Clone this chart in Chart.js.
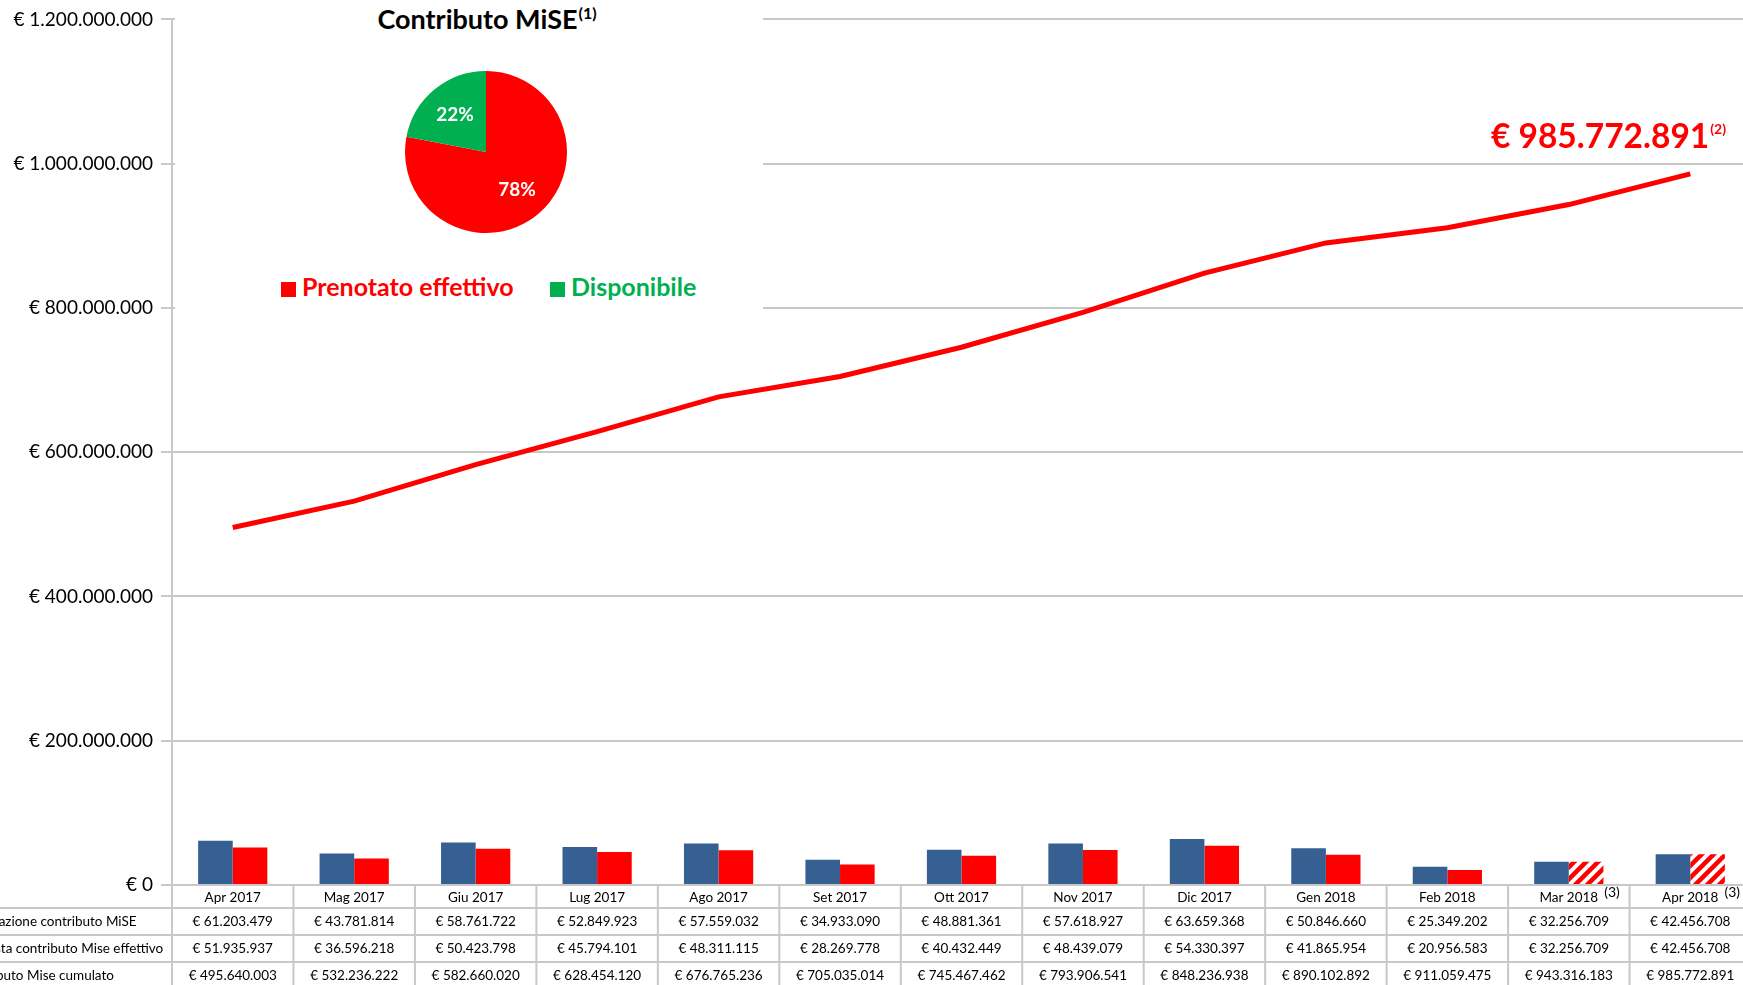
<!DOCTYPE html>
<html>
<head>
<meta charset="utf-8">
<script src="https://cdn.jsdelivr.net/npm/chart.js@4.4.1/dist/chart.umd.min.js"></script>
<style>
  html, body { margin: 0; padding: 0; background: #fff; overflow: hidden; width: 1743px; height: 985px; }
  #main { position: absolute; left: 0; top: 0; }
  #inset { position: absolute; left: 175px; top: 0; width: 588px; height: 316px; background: #fff; }
  #pie { position: absolute; left: 401px; top: 67px; }
  .lbl { position: absolute; font-family: Lato, sans-serif; font-weight: bold; white-space: nowrap; }
  .sq { position: absolute; width: 15px; height: 15px; }
</style>
</head>
<body>
<canvas id="main" width="1760" height="985"></canvas>
<div id="inset"></div>
<div class="lbl" style="left:287px;top:2px;width:400px;text-align:center;font-size:27px;line-height:34px;color:#000">Contributo MiSE<span style="font-size:16px;position:relative;top:-10px;margin-left:1px">(1)</span></div>
<canvas id="pie" width="170" height="170"></canvas>
<div class="sq" style="left:281px;top:282px;background:#ff0000"></div>
<div class="lbl" style="left:302px;top:274px;font-size:25px;line-height:25px;color:#ff0000">Prenotato effettivo</div>
<div class="sq" style="left:550px;top:282px;background:#00b050"></div>
<div class="lbl" style="left:571px;top:274px;font-size:25px;line-height:25px;color:#00b050">Disponibile</div>
<script>
// data
var months = ['Apr 2017', 'Mag 2017', 'Giu 2017', 'Lug 2017', 'Ago 2017', 'Set 2017', 'Ott 2017',
  'Nov 2017', 'Dic 2017', 'Gen 2018', 'Feb 2018', 'Mar 2018', 'Apr 2018'];
var erogazione = [61203479, 43781814, 58761722, 52849923, 57559032, 34933090, 48881361,
  57618927, 63659368, 50846660, 25349202, 32256709, 42456708];
var effettivo = [51935937, 36596218, 50423798, 45794101, 48311115, 28269778, 40432449,
  48439079, 54330397, 41865954, 20956583, 32256709, 42456708];
var cumulato = [495640003, 532236222, 582660020, 628454120, 676765236, 705035014, 745467462,
  793906541, 848236938, 890102892, 911059475, 943316183, 985772891];
var stimato = [false, false, false, false, false, false, false, false, false, false, false, true, true];
var rowLabels = ['Prenotazione contributo MiSE', 'Richiesta contributo Mise effettivo', 'Contributo Mise cumulato'];
var yTicks = [0, 200000000, 400000000, 600000000, 800000000, 1000000000, 1200000000];
var pieLabels = ['Prenotato effettivo', 'Disponibile'];
var pieValues = [78, 22];

var BLUE = '#376092', RED = '#ff0000', GREEN = '#00b050', GRID = '#c8c8c8';
Chart.defaults.font.family = 'Lato, sans-serif';
Chart.defaults.color = '#000';

function euro(v) {
  return '€ ' + Math.round(v).toString().replace(/\B(?=(\d{3})+(?!\d))/g, '.');
}

// striped fill for the estimated months
function stripes() {
  var c = document.createElement('canvas');
  c.width = 12; c.height = 12;
  var g = c.getContext('2d');
  g.fillStyle = '#fff';
  g.fillRect(0, 0, 12, 12);
  g.strokeStyle = RED;
  g.lineWidth = 4.5;
  [[-6, 6, 6, -6], [0, 12, 12, 0], [6, 18, 18, 6]].forEach(function (l) {
    g.beginPath(); g.moveTo(l[0], l[1]); g.lineTo(l[2], l[3]); g.stroke();
  });
  return g.createPattern(c, 'repeat');
}
var hatch = stripes();

// data table under the plot
var tablePlugin = {
  id: 'table',
  afterDraw: function (chart) {
    var ctx = chart.ctx, x = chart.scales.x, area = chart.chartArea;
    var n = months.length;
    var cw = (x.getPixelForValue(1) - x.getPixelForValue(0));
    var font = '13.5px Lato, sans-serif';
    ctx.save();
    ctx.strokeStyle = GRID;
    ctx.lineWidth = 2;
    [908, 935, 962].forEach(function (y) {
      ctx.beginPath(); ctx.moveTo(0, y); ctx.lineTo(area.right, y); ctx.stroke();
    });
    for (var k = 0; k <= n; k++) {
      var bx = x.getPixelForValue(0) - cw / 2 + k * cw;
      ctx.beginPath(); ctx.moveTo(bx, area.bottom); ctx.lineTo(bx, 985); ctx.stroke();
    }
    ctx.fillStyle = '#000';
    ctx.textBaseline = 'middle';
    ctx.font = font;
    var rows = [erogazione, effettivo, cumulato];
    for (var i = 0; i < n; i++) {
      var cx = x.getPixelForValue(i);
      ctx.textAlign = 'center';
      ctx.fillText(months[i], cx, 898);
      if (stimato[i]) {
        var w = ctx.measureText(months[i]).width;
        ctx.font = '14px Lato, sans-serif';
        ctx.textAlign = 'left';
        ctx.fillText('(3)', cx + w / 2 + 6, 892);
        ctx.font = font;
        ctx.textAlign = 'center';
      }
      rows.forEach(function (r, j) {
        ctx.fillText(euro(r[i]), cx, 922 + j * 27);
      });
    }
    ctx.textAlign = 'left';
    rowLabels.forEach(function (t, j) {
      ctx.fillText(t, -41, 922 + j * 27);
    });
    ctx.restore();
  }
};

// value callout at the end of the cumulative line
var calloutPlugin = {
  id: 'callout',
  afterDatasetsDraw: function (chart) {
    var ctx = chart.ctx;
    var last = cumulato.length - 1;
    var px = chart.scales.x.getPixelForValue(last);
    var py = chart.scales.y.getPixelForValue(cumulato[last]);
    ctx.save();
    ctx.fillStyle = RED;
    ctx.textBaseline = 'alphabetic';
    ctx.textAlign = 'right';
    ctx.font = 'bold 33.5px Lato, sans-serif';
    ctx.fillText(euro(cumulato[last]), px + 19, py - 26);
    ctx.textAlign = 'left';
    ctx.font = 'bold 14px Lato, sans-serif';
    ctx.fillText('(2)', px + 20, py - 40);
    ctx.restore();
  }
};

new Chart(document.getElementById('main'), {
  type: 'bar',
  data: {
    labels: months,
    datasets: [
      { type: 'line', data: cumulato, borderColor: RED, borderWidth: 5, pointRadius: 0, tension: 0, order: 0 },
      { data: erogazione, backgroundColor: BLUE, order: 1 },
      { data: effettivo, backgroundColor: effettivo.map(function (v, i) { return stimato[i] ? hatch : RED; }), order: 1 }
    ]
  },
  options: {
    responsive: false,
    animation: false,
    layout: { padding: { left: 0, right: 9, top: 19, bottom: 100 } },
    datasets: { bar: { categoryPercentage: 0.57, barPercentage: 1 } },
    plugins: { legend: { display: false }, tooltip: { enabled: false } },
    scales: {
      x: { display: false },
      y: {
        min: 0, max: 1200000000,
        afterBuildTicks: function (s) { s.ticks = yTicks.map(function (v) { return { value: v }; }); },
        afterFit: function (s) { s.width = 172; },
        grid: { color: GRID, lineWidth: 2, tickLength: 11 },
        border: { color: GRID, width: 2 },
        ticks: { padding: 8, font: { size: 19 }, color: '#000', callback: function (v) { return euro(v); } }
      }
    }
  },
  plugins: [tablePlugin, calloutPlugin]
});

// inset pie
var pieLabelPlugin = {
  id: 'pieLabels',
  afterDatasetsDraw: function (chart) {
    var ctx = chart.ctx;
    var meta = chart.getDatasetMeta(0);
    ctx.save();
    ctx.fillStyle = '#fff';
    ctx.font = 'bold 19px Lato, sans-serif';
    ctx.textAlign = 'center';
    ctx.textBaseline = 'middle';
    meta.data.forEach(function (arc, i) {
      var a = (arc.startAngle + arc.endAngle) / 2;
      var r = arc.outerRadius * 0.6;
      ctx.fillText(pieValues[i] + '%', arc.x + Math.cos(a) * r, arc.y + Math.sin(a) * r);
    });
    ctx.restore();
  }
};

new Chart(document.getElementById('pie'), {
  type: 'pie',
  data: {
    labels: pieLabels,
    datasets: [{ data: pieValues, backgroundColor: [RED, GREEN], borderWidth: 0 }]
  },
  options: {
    responsive: false,
    animation: false,
    layout: { padding: 4 },
    plugins: { legend: { display: false }, tooltip: { enabled: false } }
  },
  plugins: [pieLabelPlugin]
});
</script>
</body>
</html>
